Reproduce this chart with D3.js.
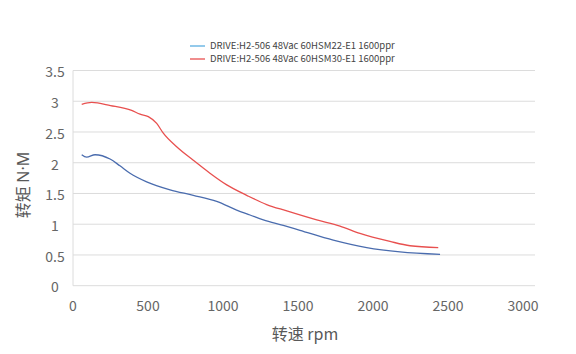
<!DOCTYPE html>
<html>
<head>
<meta charset="utf-8">
<script src="https://cdn.jsdelivr.net/npm/d3@7"></script>
<style>
  body { margin: 0; background: #fff; }
  text { font-family: "Noto Sans CJK SC", "Noto Sans", sans-serif; fill: #595959; }
</style>
</head>
<body>
<div id="chart"></div>
<script>
// data: [rpm, torque N·M]
var seriesNames = ["DRIVE:H2-506 48Vac 60HSM22-E1 1600ppr", "DRIVE:H2-506 48Vac 60HSM30-E1 1600ppr"];
var hsm22 = [[58,2.13],[91,2.09],[147,2.13],[247,2.06],[313,1.95],[380,1.83],[491,1.69],[647,1.56],
  [802,1.47],[958,1.37],[1091,1.23],[1180,1.15],[1269,1.07],[1402,0.98],[1513,0.90],[1735,0.74],
  [1958,0.62],[2180,0.55],[2447,0.51]];
var hsm30 = [[58,2.95],[125,2.98],[250,2.93],[391,2.85],[447,2.79],[502,2.75],[558,2.64],[602,2.48],
  [691,2.26],[802,2.04],[913,1.83],[1025,1.64],[1158,1.47],[1291,1.32],[1420,1.22],
  [1625,1.07],[1780,0.97],[1913,0.85],[2113,0.72],[2247,0.65],[2435,0.62]];
var xTicks = [0, 500, 1000, 1500, 2000, 2500, 3000];
var yTicks = [0, 0.5, 1, 1.5, 2, 2.5, 3, 3.5];

var W = 576, H = 354;
var svg = d3.select("#chart").append("svg").attr("width", W).attr("height", H);

var x = d3.scaleLinear().domain([0, 3000]).range([73, 523]);
var y = d3.scaleLinear().domain([0, 3.5]).range([285.7, 70.5]);

// horizontal grid
svg.append("g").selectAll("line").data(yTicks).enter().append("line")
  .attr("x1", 73).attr("x2", 535)
  .attr("y1", function(d) { return y(d); }).attr("y2", function(d) { return y(d); })
  .attr("stroke", "#dcdcdc").attr("stroke-width", 1);

// left axis line
svg.append("line").attr("x1", 73).attr("x2", 73).attr("y1", y(3.5)).attr("y2", y(0))
  .attr("stroke", "#dcdcdc");

// y tick labels (centred in the source image)
svg.append("g").selectAll("text").data(yTicks).enter().append("text")
  .attr("x", 55).attr("y", function(d) { return y(d) + 3; })
  .attr("text-anchor", "middle").attr("dominant-baseline", "middle")
  .style("font-size", "14px").style("fill", "#666")
  .text(function(d) { return d; });

// x tick labels
svg.append("g").selectAll("text").data(xTicks).enter().append("text")
  .attr("x", function(d) { return x(d); }).attr("y", 307)
  .attr("text-anchor", "middle").attr("dominant-baseline", "middle")
  .style("font-size", "14px").style("fill", "#666")
  .text(function(d) { return d; });

// axis titles
svg.append("text").attr("x", 305).attr("y", 336)
  .attr("text-anchor", "middle").attr("dominant-baseline", "middle")
  .style("font-size", "16px").text("转速 rpm");
var yt = svg.append("text").attr("transform", "translate(25,185) rotate(-90)")
  .attr("text-anchor", "middle").attr("dominant-baseline", "middle")
  .style("font-size", "16px");
yt.append("tspan").text("转矩 ");
yt.append("tspan").style("font-family", "'Noto Sans', sans-serif").text("N·M");

var line = d3.line()
  .x(function(d) { return x(d[0]); })
  .y(function(d) { return y(d[1]); })
  .curve(d3.curveMonotoneX);

svg.append("path").datum(hsm22).attr("d", line)
  .attr("fill", "none").attr("stroke", "#4a6cae").attr("stroke-width", 1.3);
svg.append("path").datum(hsm30).attr("d", line)
  .attr("fill", "none").attr("stroke", "#e8504f").attr("stroke-width", 1.3);

// legend
var legColors = ["#5aaee0", "#e8504f"];
var leg = svg.append("g").selectAll("g").data(seriesNames).enter().append("g")
  .attr("transform", function(d, i) { return "translate(190," + (46 + i * 13) + ")"; });
leg.append("line").attr("x1", 0).attr("x2", 15).attr("y1", 0).attr("y2", 0)
  .attr("stroke", function(d, i) { return legColors[i]; }).attr("stroke-width", 1.3);
leg.append("text").attr("x", 20).attr("y", 0).attr("dominant-baseline", "middle")
  .style("font-size", "9.5px").style("fill", "#444")
  .text(function(d) { return d; });
</script>
</body>
</html>
